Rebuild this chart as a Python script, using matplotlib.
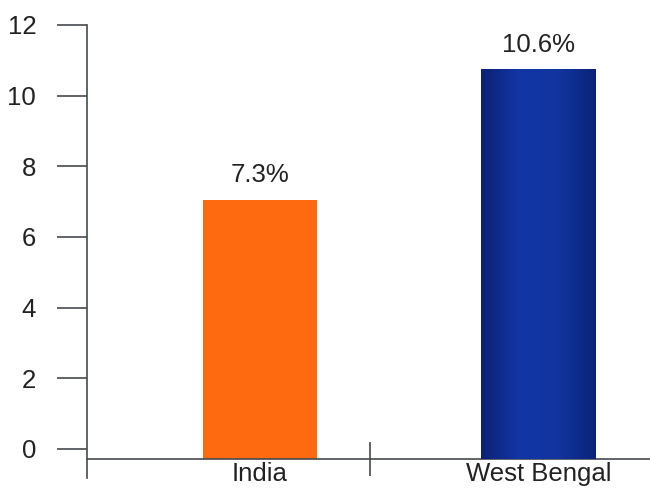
import matplotlib
matplotlib.use("Agg")
import matplotlib.pyplot as plt
import numpy as np
from matplotlib.colors import LinearSegmentedColormap

# data
categories = ["India", "West Bengal"]
values = [7.05, 10.75]          # bar heights as drawn in the picture
value_labels = ["7.3%", "10.6%"]
yticks = [0, 2, 4, 6, 8, 10, 12]

plt.rcParams['font.family'] = ['Liberation Sans', 'DejaVu Sans']
FS = 18.5

fig = plt.figure(figsize=(6.5, 4.91), dpi=100)
ax = fig.add_axes([87/650, 1 - 478/491, 1 - 87/650, (478 - 25)/491])

axis_y = -0.283
x = np.arange(len(categories))
colors = ["#fd6a10", "#12329a"]
bars = ax.bar(x, [v - axis_y for v in values], bottom=axis_y, width=0.411,
              color=colors, zorder=2)

# gradient on the blue bar
blue = bars[1]
cmap = LinearSegmentedColormap.from_list("b", ["#0b2272", "#1336a6", "#1234a0", "#0b2478"])
grad = np.linspace(0, 1, 256).reshape(1, -1)
bx, by = blue.get_x(), blue.get_y()
im = ax.imshow(grad, cmap=cmap, aspect='auto', zorder=3,
               extent=[bx, bx + blue.get_width(), by, by + blue.get_height()])
im.set_clip_path(blue)

for xi, v, lab in zip(x, values, value_labels):
    ax.annotate(lab, (xi, v), xytext=(0, 9), textcoords='offset points',
                ha='center', va='bottom', fontsize=FS, color='#222222')

ax.set_xlim(-0.621, 1.400)
ax.set_ylim(-0.821, 12)

axcol = '#45494e'
for s in ['top', 'right']:
    ax.spines[s].set_visible(False)
ax.spines['left'].set_color(axcol)
ax.spines['left'].set_linewidth(1.2)
ax.spines['bottom'].set_color(axcol)
ax.spines['bottom'].set_linewidth(1.2)
ax.spines['bottom'].set_position(('data', axis_y))

ax.set_yticks(yticks)
ax.set_yticklabels([str(t) for t in yticks])
ax.tick_params(axis='y', direction='out', length=21.6, width=1.2, color=axcol,
               pad=15, labelsize=FS, labelcolor='#222222')

ax.set_xticks([0.395])
ax.set_xticklabels([""])
ax.tick_params(axis='x', which='major', direction='inout', length=24, width=1.2, color=axcol)
ax.set_xticks(x, minor=True)
ax.set_xticklabels(categories, minor=True)
ax.tick_params(axis='x', which='minor', length=0, pad=2, labelsize=FS, labelcolor='#222222')

fig.savefig("out.png", dpi=100)
